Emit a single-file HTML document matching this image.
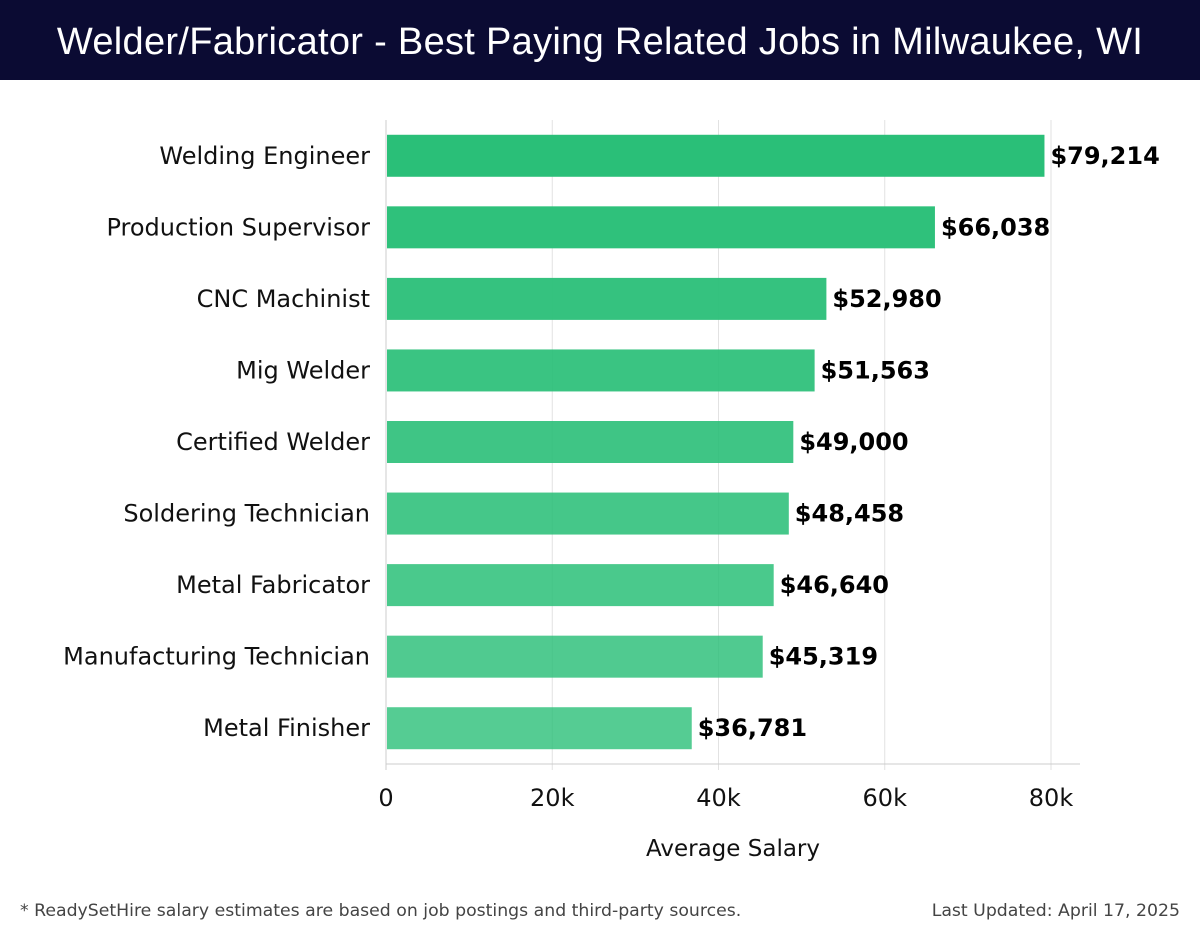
<!DOCTYPE html>
<html><head><meta charset="utf-8"><style>
body{margin:0;width:1200px;height:940px;background:#fff;font-family:"Liberation Sans","DejaVu Sans",sans-serif;overflow:hidden;position:relative}
#title{position:absolute;left:0;top:0;width:1200px;height:80px;background:#0b0b33;color:#fff;font-size:38px;text-align:center;line-height:84px;font-weight:300;letter-spacing:0.3px}
.foot{position:absolute;top:901px;font-size:17.3px;color:#444;font-family:"DejaVu Sans",sans-serif}
</style></head><body>
<div id="title">Welder/Fabricator - Best Paying Related Jobs in Milwaukee, WI</div>
<svg id="chart" width="1200" height="900" style="position:absolute;left:0;top:0;font-family:'DejaVu Sans',sans-serif"></svg>
<div class="foot" style="left:20px">* ReadySetHire salary estimates are based on job postings and third-party sources.</div>
<div class="foot" style="right:20px">Last Updated: April 17, 2025</div>
<script>
const categories=["Welding Engineer","Production Supervisor","CNC Machinist","Mig Welder","Certified Welder","Soldering Technician","Metal Fabricator","Manufacturing Technician","Metal Finisher"];
const salaries=[79214,66038,52980,51563,49000,48458,46640,45319,36781];
const ticks=[0,20000,40000,60000,80000];
const tickLabels=["0","20k","40k","60k","80k"];
const NS="http://www.w3.org/2000/svg";
const svg=document.getElementById('chart');
const x0=386,x1=1051,yTop=120,yBottom=764;
const xs=v=>x0+(x1-x0)*v/80000;
const band=(yBottom-yTop)/categories.length;
const yc=i=>yTop+band*(i+0.5);
function mk(t,a){const e=document.createElementNS(NS,t);for(const k in a)e.setAttribute(k,a[k]);svg.appendChild(e);return e;}
ticks.forEach((t,i)=>{
 const g=mk('line',{x1:xs(t),x2:xs(t),y1:yTop,y2:yBottom+6,stroke:'#e2e2e2','stroke-width':1});
 
 
 const tx=mk('text',{x:xs(t),y:806,'text-anchor':'middle','font-size':24,fill:'#111'});
 tx.textContent=tickLabels[i];
 
 
});
const ax=mk('line',{x1:x0,x2:1080,y1:yBottom,y2:yBottom,stroke:'#ccc','stroke-width':1});


const ay=mk('line',{x1:x0,x2:x0,y1:yTop,y2:yBottom+6,stroke:'#ccc','stroke-width':1});


const xt=mk('text',{x:733,y:856,'text-anchor':'middle','font-size':23,fill:'#111'});
xt.textContent='Average Salary';


categories.forEach((c,i)=>{
 const y=yc(i);
 const op=1-0.2*i/(categories.length-1);
 const r=mk('rect',{x:x0+1,y:y-21,width:xs(salaries[i])-x0-1,height:42,fill:'#2abf78','fill-opacity':op});
 
 
 const l=mk('text',{x:370,y:y+8,'text-anchor':'end','font-size':24,fill:'#111'});
 l.textContent=c;
 
 
 const v=mk('text',{x:xs(salaries[i])+6,y:y+8,'font-size':24,'font-weight':'bold',fill:'#000'});
 v.textContent='$'+salaries[i].toLocaleString('en-US');
 
 
});
</script>
</body></html>
